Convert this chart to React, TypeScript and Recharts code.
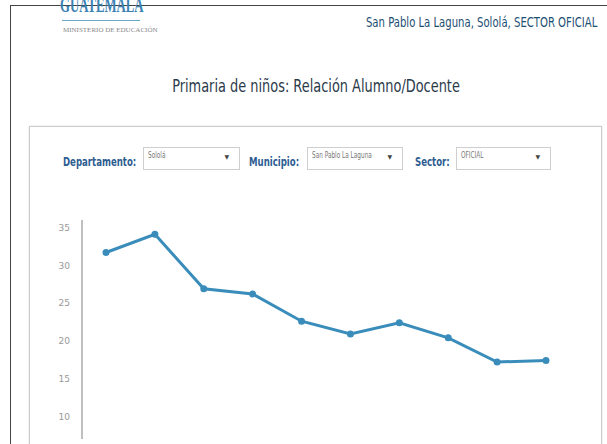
import { LineChart, Line, XAxis, YAxis } from 'recharts';

const years = ['2007', '2008', '2009', '2010', '2011', '2012', '2013', '2014', '2015', '2016'];
const ratio = [31.7, 34.1, 26.9, 26.2, 22.6, 20.9, 22.4, 20.4, 17.2, 17.4];
const yTicks = [10, 15, 20, 25, 30, 35];

const data = years.map((y, i) => ({ year: y, ratio: ratio[i] }));

const narrow = '"DejaVu Sans", "Noto Sans", sans-serif';
const labelBlue = '#2d5d91';

// text in the picture is a narrow geometric face, so squeeze horizontally
const squeeze = (sx: number, origin = 'left') => ({
  transform: `scaleX(${sx})`,
  transformOrigin: `${origin} center`,
});

function Select({ left, width, value }: { left: number; width: number; value: string }) {
  return (
    <div
      style={{
        position: 'absolute',
        left,
        top: 147,
        width,
        height: 23,
        border: '1px solid #cfcfcf',
        boxSizing: 'border-box',
        background: '#fff',
        fontFamily: narrow,
        fontSize: 8,
        color: '#777',
      }}
    >
      <span style={{ position: 'absolute', left: 4, top: 3, whiteSpace: 'nowrap', ...squeeze(0.72) }}>{value}</span>
      <span style={{ position: 'absolute', right: 10, top: 5, fontSize: 6, color: '#444' }}>▼</span>
    </div>
  );
}

function Label({ left, text }: { left: number; text: string }) {
  return (
    <div
      style={{
        position: 'absolute',
        left,
        top: 154,
        fontFamily: narrow,
        fontSize: 13,
        fontWeight: 'bold',
        color: labelBlue,
        whiteSpace: 'nowrap',
        ...squeeze(0.66),
      }}
    >
      {text}
    </div>
  );
}

export default function App() {
  return (
    <div
      style={{
        position: 'fixed',
        left: 0,
        top: 0,
        width: 607,
        height: 444,
        overflow: 'hidden',
        background: '#fff',
      }}
    >
      {/* outer page frame */}
      <div style={{ position: 'absolute', left: 10, top: 5, width: 600, height: 460, borderLeft: '1px solid #444', borderTop: '1px solid #444' }} />

      {/* logo */}
      <div style={{ position: 'absolute', left: 60, top: -8, fontFamily: '"Liberation Serif", serif', fontSize: 22, fontWeight: 'bold', color: '#3b82b3', whiteSpace: 'nowrap', ...squeeze(0.58) }}>
        GUATEMALA
      </div>
      <div style={{ position: 'absolute', left: 62, top: 20, width: 78, height: 1, background: '#6aa7c7' }} />
      <div style={{ position: 'absolute', left: 63, top: 26, fontFamily: '"Liberation Serif", serif', fontSize: 7, color: '#888', whiteSpace: 'nowrap' }}>
        MINISTERIO DE EDUCACIÓN
      </div>

      <div style={{ position: 'absolute', right: 10, top: 14, fontFamily: narrow, fontSize: 14, color: '#1d4f73', whiteSpace: 'nowrap', ...squeeze(0.72, 'right') }}>
        San Pablo La Laguna, Sololá, SECTOR OFICIAL
      </div>

      <div style={{ position: 'absolute', left: 0, width: 632, top: 76, textAlign: 'center', fontFamily: narrow, fontSize: 17, color: '#2b3a4a', whiteSpace: 'nowrap', transform: 'scaleX(0.76)', transformOrigin: '316px center' }}>
        Primaria de niños: Relación Alumno/Docente
      </div>

      {/* panel */}
      <div style={{ position: 'absolute', left: 29, top: 126, width: 571, height: 400, border: '1px solid #cccccc', boxShadow: '0 0 2px #ddd' }} />

      <Label left={63} text="Departamento:" />
      <Select left={143} width={97} value="Sololá" />
      <Label left={249} text="Municipio:" />
      <Select left={307} width={96} value="San Pablo La Laguna" />
      <Label left={415} text="Sector:" />
      <Select left={456} width={95} value="OFICIAL" />

      <div style={{ position: 'absolute', left: 0, top: 0 }}>
        <LineChart width={607} height={460} data={data} margin={{ top: 220, right: 37, bottom: 21, left: 0 }}>
          <XAxis dataKey="year" hide padding={{ left: 24, right: 24 }} />
          <YAxis
            width={82}
            domain={[7, 36]}
            ticks={yTicks}
            tickLine={false}
            tickMargin={6}
            axisLine={{ stroke: '#aaaaaa', strokeWidth: 1.5 }}
            tick={{ fontSize: 9, fill: '#999', fontFamily: narrow }}
          />
          <Line
            type="linear"
            dataKey="ratio"
            stroke="#3a8dba"
            strokeWidth={3}
            dot={{ r: 2, fill: '#3a8dba', stroke: '#3a8dba' }}
            isAnimationActive={false}
          />
        </LineChart>
      </div>
    </div>
  );
}
